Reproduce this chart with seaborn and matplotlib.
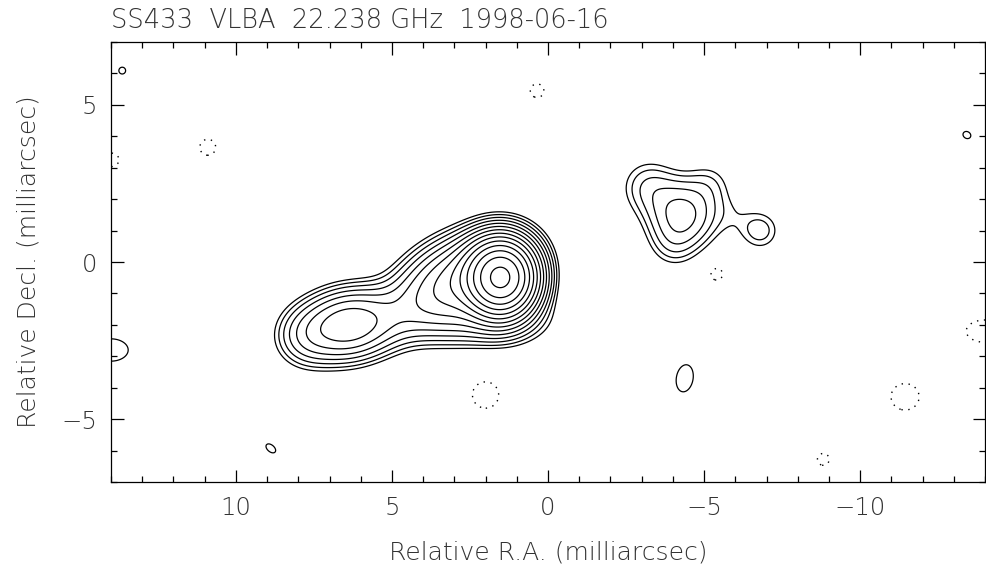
import numpy as np
import matplotlib
matplotlib.use("Agg")
import matplotlib.pyplot as plt
from matplotlib.ticker import MultipleLocator
import seaborn as sns

title = "SS433  VLBA  22.238 GHz  1998-06-16"
xlabel = "Relative R.A. (milliarcsec)"
ylabel = "Relative Decl. (milliarcsec)"

# clean-component style model of the map, in units of the lowest contour
# position (mas), peak, gaussian widths (mas), position angle (deg)
comp_x = [1.5, 2.8, 4.6, 6.4, 7.8, 2.0,
          -4.3, -3.2, -5.2, -6.8, -4.0, -5.9,
          13.64, -13.42, 8.88, -4.38, 14.0,
          0.35, 10.9, 2.0, -5.4, -8.82, -11.44, -14.0, 14.1]
comp_y = [-0.5, -0.6, -1.6, -2.0, -2.4, -1.9,
          1.5, 2.4, 2.5, 1.0, 0.5, 1.5,
          6.09, 4.04, -5.93, -3.7, -2.8,
          5.45, 3.65, -4.23, -0.38, -6.28, -4.29, -2.2, 3.25]
comp_amp = [95, 14, 1.5, 10.5, 2.0, 2.5,
            4.6, 1.8, 1.0, 1.7, 1.0, 0.6,
            1.3, 1.3, 1.3, 1.3, 1.3,
            -1.3, -1.3, -1.3, -1.3, -1.3, -1.3, -1.3, -1.3]
comp_sx = [0.6, 1.2, 0.8, 0.95, 0.6, 1.3,
           0.7, 0.6, 0.5, 0.45, 0.5, 0.5,
           0.15, 0.18, 0.25, 0.37, 0.76,
           0.3, 0.35, 0.58, 0.28, 0.26, 0.62, 0.83, 0.5]
comp_sy = [0.65, 0.75, 0.6, 0.65, 0.6, 0.55,
           0.7, 0.6, 0.5, 0.45, 0.5, 0.5,
           0.15, 0.15, 0.15, 0.6, 0.49,
           0.3, 0.35, 0.58, 0.28, 0.26, 0.58, 0.49, 0.32]
comp_pa = [0, -25, -20, -10, 0, 0,
           0, 0, 0, 0, 0, 0,
           0, 30, 40, 10, 0,
           0, 0, 0, 0, 0, 0, 0, 0]

base_level = 1.0
contour_steps = list(range(14))  # base * sqrt(2)**k
neg_levels = [-1.0]

ra = np.linspace(14.2, -14.2, 950)
dec = np.linspace(-7.2, 7.2, 482)
X, Y = np.meshgrid(ra, dec)
Z = np.zeros_like(X)
for x0, y0, a, sx, sy, pa in zip(comp_x, comp_y, comp_amp, comp_sx, comp_sy, comp_pa):
    t = np.deg2rad(pa)
    u = (X - x0) * np.cos(t) + (Y - y0) * np.sin(t)
    v = -(X - x0) * np.sin(t) + (Y - y0) * np.cos(t)
    Z += a * np.exp(-0.5 * ((u / sx) ** 2 + (v / sy) ** 2))

pos_levels = [base_level * np.sqrt(2) ** k for k in contour_steps]

sns.set_style("ticks")
plt.rcParams['font.family'] = ['DejaVu Sans']
plt.rcParams['font.weight'] = 'light'
plt.rcParams['axes.labelweight'] = 'light'
txt = '#333333'

fig = plt.figure(figsize=(9.86, 5.71), dpi=100)
ax = fig.add_axes([111 / 986, 89 / 571, 874 / 986, 440 / 571])

ax.contour(X, Y, Z, levels=pos_levels, colors='black', linewidths=0.9)
ax.contour(X, Y, Z, levels=neg_levels, colors='black', linewidths=1.0,
           linestyles=[(0, (1, 4))])

ax.set_xlim(14, -14)
ax.set_ylim(-7, 7)
ax.xaxis.set_major_locator(MultipleLocator(5))
ax.xaxis.set_minor_locator(MultipleLocator(1))
ax.yaxis.set_major_locator(MultipleLocator(5))
ax.yaxis.set_minor_locator(MultipleLocator(1))
ax.tick_params(which='both', direction='in', top=True, right=True,
               color='black', width=0.9, labelsize=17.5, labelcolor=txt)
ax.tick_params(which='major', length=9, pad=10)
ax.tick_params(which='minor', length=4.5)
for s in ax.spines.values():
    s.set_linewidth(0.9)
    s.set_color('black')

ax.set_xlabel(xlabel, fontsize=18, color=txt, labelpad=15, fontweight='light')
ax.set_ylabel(ylabel, fontsize=18, color=txt, labelpad=15, fontweight='light')
fig.text(111 / 986, 1 - 28 / 571, title, fontsize=18.5, color=txt,
         ha='left', va='baseline')

fig.savefig("out.png", dpi=100)
